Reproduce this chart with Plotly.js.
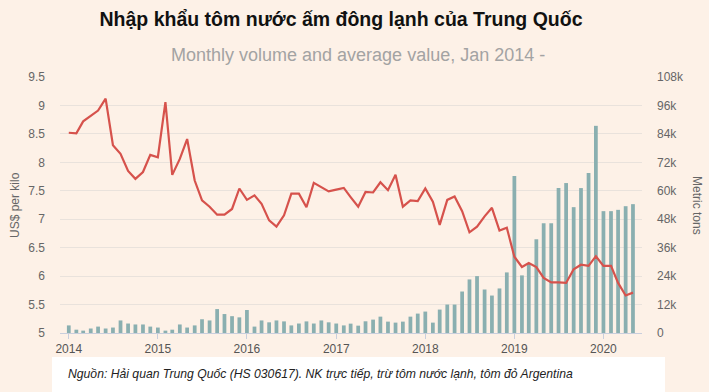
<!DOCTYPE html>
<html>
<head>
<meta charset="utf-8">
<script src="https://cdn.plot.ly/plotly-3.0.1.min.js"></script>
<style>html,body{margin:0;padding:0;background:#fdf1e7;}#chart{width:709px;height:392px;}</style>
</head>
<body>
<div id="chart"></div>
<script>
// Months Jan 2014 - May 2020
const startYear = 2014, monthCount = 77;
const months = [];
for (let i = 0; i < monthCount; i++) {
  const y = startYear + Math.floor(i / 12), m = (i % 12) + 1;
  months.push(y + '-' + (m < 10 ? '0' + m : m) + '-01');
}

// Average value, US$ per kilo
const priceUSD = [
  8.52, 8.51, 8.72, 8.82, 8.91, 9.12, 8.30, 8.15, 7.85, 7.71, 7.83, 8.13,
  8.09, 9.06, 7.78, 8.06, 8.41, 7.68, 7.33, 7.22, 7.08, 7.08, 7.18, 7.54,
  7.34, 7.42, 7.27, 6.98, 6.87, 7.07, 7.45, 7.45, 7.21, 7.64, 7.57, 7.49,
  7.52, 7.55, 7.39, 7.22, 7.48, 7.47, 7.65, 7.51, 7.78, 7.22, 7.33, 7.32,
  7.54, 7.31, 6.90, 7.34, 7.40, 7.14, 6.77, 6.87, 7.05, 7.20, 6.80, 6.85,
  6.34, 6.16, 6.23, 6.16, 5.97, 5.89, 5.89, 5.88, 6.12, 6.20, 6.18, 6.35,
  6.18, 6.18, 5.88, 5.66, 5.71
];

// Monthly volume, metric tons
const volumeTons = [
  3200, 1400, 1000, 1900, 2700, 1900, 2300, 5300, 4000, 3600, 3600, 2700,
  2300, 1000, 1400, 3600, 2300, 3200, 5800, 5300, 10100, 8000, 7100, 6600,
  9700, 2700, 5300, 4500, 5300, 4900, 3200, 4000, 4900, 4000, 5300, 4500,
  4000, 3200, 3950, 3100, 4940, 5650, 6900, 4800, 4380, 4800, 6900, 8190,
  9040, 4380, 9880, 12000, 12000, 17500, 22600, 24000, 18350, 15800, 18800, 25560,
  66200, 24300, 29370, 39540, 46300, 46300, 61140, 63260, 53090, 61140, 67500, 87400,
  51400, 51400, 51960, 53500, 54360
];

const leftTicks = [5, 5.5, 6, 6.5, 7, 7.5, 8, 8.5, 9, 9.5];
const rightTicks = [0, 12000, 24000, 36000, 48000, 60000, 72000, 84000, 96000, 108000];
const rightTickText = ['0', '12k', '24k', '36k', '48k', '60k', '72k', '84k', '96k', '108k'];

const titleText = 'Nhập khẩu tôm nước ấm đông lạnh của Trung Quốc';
const subtitleText = 'Monthly volume and average value, Jan 2014 -';
const sourceText = 'Nguồn: Hải quan Trung Quốc (HS 030617). NK trực tiếp, trừ tôm nước lạnh, tôm đỏ Argentina';

const FONT = 'Liberation Sans, Arial, sans-serif';
const BG = '#fdf1e7';

const traces = [
  {
    type: 'bar', x: months, y: volumeTons, yaxis: 'y',
    marker: {color: '#8aafb0'}, hoverinfo: 'x+y'
  },
  {
    type: 'scatter', mode: 'lines', x: months, y: priceUSD, yaxis: 'y2',
    line: {color: '#d6524c', width: 2.2}, hoverinfo: 'x+y'
  }
];

const layout = {
  width: 709, height: 392,
  paper_bgcolor: BG, plot_bgcolor: BG,
  margin: {l: 60, r: 67, t: 77, b: 59, pad: 0},
  showlegend: false,
  bargap: 0.45,
  font: {family: FONT, color: '#666', size: 12},
  title: {
    text: '<b>' + titleText + '</b>',
    x: 341 / 709, xref: 'container', xanchor: 'center',
    y: 1 - 19 / 392, yref: 'container', yanchor: 'middle',
    font: {family: FONT, size: 19.5, color: '#111'}
  },
  xaxis: {
    type: 'date',
    range: ['2013-11-26', '2020-06-07'],
    dtick: 'M12', tick0: '2014-01-01', tickformat: '%Y',
    ticks: 'outside', ticklen: 5, tickcolor: '#c9cfdd',
    showline: true, linecolor: '#c9cfdd', linewidth: 1,
    showgrid: false, zeroline: false,
    tickfont: {size: 12, color: '#555'}
  },
  yaxis: {
    side: 'right', range: [0, 108000],
    tickvals: rightTicks, ticktext: rightTickText,
    showgrid: true, gridcolor: '#e9e2dc', zeroline: false,
    ticks: '', ticklabelstandoff: 14,
    tickfont: {size: 12, color: '#666'}
  },
  yaxis2: {
    side: 'left', overlaying: 'y', range: [5, 9.5],
    tickvals: leftTicks,
    showgrid: false, zeroline: false, ticks: '',
    ticklabelstandoff: 14,
    tickfont: {size: 12, color: '#666'}
  },
  shapes: [
    {type: 'rect', xref: 'paper', yref: 'paper',
     x0: (52 - 60) / 582, x1: (665 - 60) / 582,
     y0: (333 - 400) / 256, y1: (333 - 357) / 256,
     fillcolor: '#ffffff', line: {width: 0}, layer: 'below'}
  ],
  annotations: [
    {text: subtitleText, xref: 'paper', yref: 'paper',
     x: (358 - 60) / 582, y: (333 - 55) / 256, xanchor: 'center', yanchor: 'middle',
     showarrow: false, font: {family: FONT, size: 18, color: '#a3a3a3'}},
    {text: 'US$ per kilo', xref: 'paper', yref: 'paper',
     x: (15 - 60) / 582, y: 0.5, xanchor: 'center', yanchor: 'middle', textangle: -90,
     showarrow: false, font: {family: FONT, size: 12, color: '#666'}},
    {text: 'Metric tons', xref: 'paper', yref: 'paper',
     x: (697 - 60) / 582, y: 0.5, xanchor: 'center', yanchor: 'middle', textangle: 90,
     showarrow: false, font: {family: FONT, size: 12, color: '#666'}},
    {text: '<i>' + sourceText + '</i>', xref: 'paper', yref: 'paper',
     x: (66 - 60) / 582, y: (333 - 374) / 256, xanchor: 'left', yanchor: 'middle',
     showarrow: false, font: {family: FONT, size: 12.2, color: '#222'}}
  ]
};

Plotly.newPlot('chart', traces, layout, {displayModeBar: false, staticPlot: true});
</script>
</body>
</html>
